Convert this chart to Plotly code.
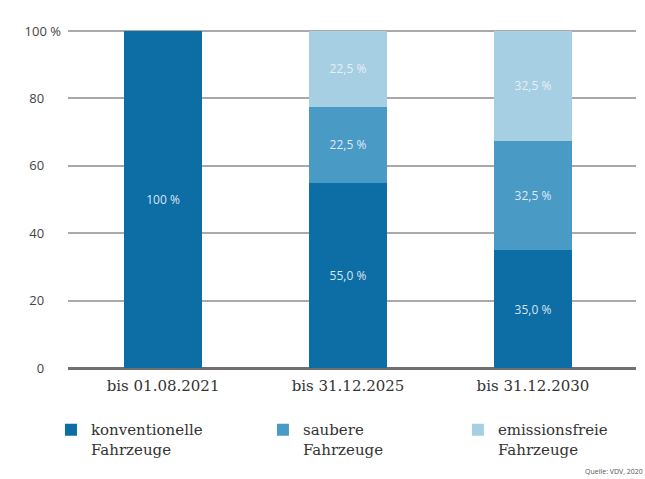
import plotly.graph_objects as go

categories = ["bis 01.08.2021", "bis 31.12.2025", "bis 31.12.2030"]
series_names = ["konventionelle<br>Fahrzeuge", "saubere<br>Fahrzeuge", "emissionsfreie<br>Fahrzeuge"]
konventionell = [100.0, 55.0, 35.0]
sauber = [0.0, 22.5, 32.5]
emissionsfrei = [0.0, 22.5, 32.5]
colors = ["#0d6ea6", "#4a9ac6", "#a7cfe3"]
tick_vals = [0, 20, 40, 60, 80, 100]
tick_text = ["0", "20", "40", "60", "80", "100 %"]

# one legend per series so each entry can be placed on its own
legend_ids = ["legend", "legend2", "legend3"]
legend_x = [-0.0300, 0.3432, 0.6865]


def fmt(v):
    if v == 100:
        return "100 %"
    return f"{v:.1f}".replace(".", ",") + " %"


fig = go.Figure()
for name, vals, col, lg in zip(series_names, [konventionell, sauber, emissionsfrei], colors, legend_ids):
    fig.add_trace(go.Bar(
        x=categories,
        y=vals,
        name=name,
        legend=lg,
        marker=dict(color=col, line=dict(width=0)),
        width=0.42,
        text=[fmt(v) if v > 0 else "" for v in vals],
        textposition="inside",
        insidetextanchor="middle",
        textangle=0,
        textfont=dict(family="Open Sans, sans-serif", size=12, color="rgba(235,243,249,0.92)"),
        cliponaxis=False,
    ))

legend_style = dict(
    xanchor="left",
    yref="container",
    y=0.137, yanchor="top",
    valign="top",
    bgcolor="rgba(0,0,0,0)",
    font=dict(family="DejaVu Serif, serif", size=15, color="#333333"),
    itemclick=False,
)

# pad labels so the numbers sit left of the "100 %" label's right edge
pad = "\u00a0" * 5
fig.update_layout(
    barmode="stack",
    width=645,
    height=479,
    margin=dict(l=68, r=9, t=30, b=111),
    paper_bgcolor="white",
    plot_bgcolor="white",
    showlegend=True,
    legend=dict(x=legend_x[0], **legend_style),
    legend2=dict(x=legend_x[1], **legend_style),
    legend3=dict(x=legend_x[2], **legend_style),
    uniformtext=dict(minsize=8, mode="show"),
    xaxis=dict(
        range=[-0.514, 2.557],
        showgrid=False,
        zeroline=False,
        showline=False,
        ticks="",
        ticklabelstandoff=7,
        tickfont=dict(family="DejaVu Serif, serif", size=15, color="#333333"),
    ),
    yaxis=dict(
        range=[0, 100.3],
        tickvals=tick_vals,
        ticktext=[t if t.endswith("%") else t + pad for t in tick_text],
        showgrid=True,
        gridcolor="#a9a9a9",
        gridwidth=1.5,
        zeroline=True,
        zerolinecolor="#707070",
        zerolinewidth=2.5,
        showline=False,
        ticks="",
        ticklabelstandoff=6,
        tickfont=dict(family="Open Sans, sans-serif", size=13, color="#444444"),
    ),
    annotations=[dict(
        text="Quelle: VDV, 2020",
        xref="paper", yref="paper",
        x=1.0, xanchor="right", xshift=9,
        y=0, yanchor="bottom", yshift=-110,
        showarrow=False,
        font=dict(family="Open Sans, sans-serif", size=7, color="#555555"),
    )],
)

fig.write_html("out.html")
